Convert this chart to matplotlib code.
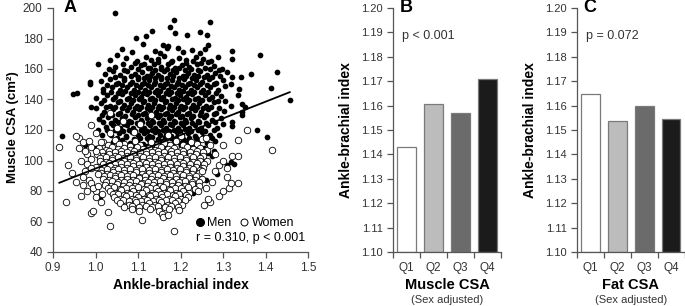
import matplotlib
matplotlib.use('Agg')
import matplotlib.pyplot as plt
from matplotlib.lines import Line2D

plt.rcParams['font.family'] = ['Liberation Sans', 'DejaVu Sans']

# ---- panel A data (ankle-brachial index, muscle CSA) ----
men = [
    (1.045, 196.5), (1.184, 192), (1.269, 190.5), (1.134, 185), (1.176, 187.5), (1.188, 183.5),
    (1.216, 182.5), (1.247, 184.5), (1.263, 182.5), (1.119, 181.5), (1.096, 180.5), (1.160, 176),
    (1.171, 175), (1.112, 176.5), (1.265, 176),
    (1.062, 173), (1.087, 171), (1.139, 172), (1.168, 173.5), (1.205, 171), (1.228, 172.5),
    (1.245, 170.5), (1.258, 173), (1.322, 172), (1.388, 169.5), (1.193, 174), (1.151, 170.5),
    (1.035, 166), (1.071, 167), (1.098, 165.5), (1.118, 168), (1.146, 166.5), (1.162, 168.5),
    (1.181, 165.5), (1.197, 167.5), (1.214, 166), (1.236, 168), (1.252, 166.5), (1.272, 165),
    (1.322, 166.5), (1.289, 168), (1.050, 169),
    (1.092, 164.2), (1.115, 163.4), (1.131, 165.6), (1.178, 164.7), (1.212, 163.8), (1.229, 165.2),
    (1.248, 164.0),
    (1.006, 163.5), (1.047, 161.5), (1.064, 163), (1.083, 161), (1.106, 162.5), (1.124, 160.5),
    (1.137, 163.5), (1.155, 161.5), (1.171, 163), (1.188, 160.5), (1.203, 162.5), (1.221, 161),
    (1.239, 163.5), (1.257, 160.5), (1.278, 162), (1.298, 160), (1.264, 164.5), (1.147, 164.5),
    (1.031, 160.1), (1.067, 159.4), (1.100, 159.8), (1.128, 160.6), (1.141, 159.1), (1.154, 159.9),
    (1.168, 160.3), (1.183, 159.2), (1.197, 160.4), (1.211, 159.6), (1.225, 160.1), (1.240, 159.3),
    (1.270, 160.2), (1.291, 159.5),
    (1.022, 157), (1.041, 159), (1.058, 156), (1.075, 158.5), (1.093, 156.5), (1.109, 158),
    (1.121, 155.5), (1.134, 157.5), (1.148, 156), (1.161, 158.5), (1.176, 156.5), (1.190, 158),
    (1.205, 155.5), (1.218, 157.5), (1.232, 156), (1.247, 158.5), (1.262, 156), (1.281, 157.5),
    (1.310, 158), (1.322, 154.5), (1.343, 154.5), (1.427, 158.3), (1.365, 157),
    (1.045, 154.7), (1.066, 154.2), (1.083, 155.1), (1.101, 154.6), (1.115, 153.9), (1.128, 155.2),
    (1.141, 154.3), (1.155, 155.0), (1.169, 154.1), (1.183, 155.3), (1.197, 154.4), (1.212, 155.1),
    (1.226, 154.0), (1.240, 155.2), (1.255, 154.6), (1.273, 154.9), (1.293, 155.4),
    (0.986, 151.8), (0.988, 150.3), (1.012, 152), (1.035, 153.5), (1.052, 151), (1.068, 153),
    (1.085, 151.5), (1.099, 153.5), (1.113, 151), (1.127, 153), (1.141, 151.5), (1.154, 153.5),
    (1.168, 151), (1.181, 153), (1.195, 151.5), (1.208, 153.5), (1.222, 151), (1.236, 153),
    (1.251, 151.5), (1.266, 153.5), (1.284, 151), (1.318, 150.2), (1.299, 153),
    (1.028, 149.8), (1.048, 150.2), (1.063, 149.3), (1.080, 150.1), (1.096, 149.6), (1.110, 150.4),
    (1.124, 149.2), (1.137, 150.0), (1.151, 149.5), (1.164, 150.3), (1.177, 149.1), (1.191, 150.2),
    (1.204, 149.7), (1.218, 150.3), (1.232, 149.4), (1.246, 150.1), (1.262, 149.6), (1.279, 150.4),
    (0.946, 143.7), (0.956, 144.3), (1.018, 147), (1.039, 148.5), (1.057, 146.5), (1.074, 148),
    (1.090, 146), (1.104, 148.5), (1.117, 146.5), (1.131, 148), (1.144, 146), (1.158, 148.5),
    (1.171, 146.5), (1.184, 148), (1.197, 146), (1.211, 148.5), (1.225, 146.5), (1.239, 148),
    (1.254, 146), (1.270, 148.5), (1.289, 146.5), (1.337, 146.7), (1.412, 147.4), (1.305, 149),
    (1.017, 144.8), (1.036, 145.1), (1.053, 144.2), (1.069, 145.3), (1.084, 144.5), (1.099, 145.2),
    (1.112, 144.1), (1.126, 145.0), (1.139, 144.6), (1.152, 145.4), (1.165, 144.3), (1.178, 145.1),
    (1.191, 144.5), (1.205, 145.3), (1.218, 144.2), (1.232, 145.0), (1.248, 144.6), (1.265, 145.2),
    (1.284, 144.4),
    (1.001, 141), (1.026, 143), (1.046, 141.5), (1.063, 143.5), (1.079, 141), (1.094, 143),
    (1.108, 141.5), (1.121, 143.5), (1.134, 141), (1.147, 143), (1.160, 141.5), (1.173, 143.5),
    (1.186, 141), (1.199, 143), (1.212, 141.5), (1.226, 143.5), (1.241, 141), (1.257, 143),
    (1.275, 141.5), (1.336, 143), (1.458, 139.7), (1.296, 142.5),
    (1.020, 139.8), (1.040, 140.1), (1.058, 139.3), (1.073, 140.2), (1.088, 139.6), (1.102, 140.3),
    (1.115, 139.1), (1.128, 140.0), (1.141, 139.5), (1.154, 140.4), (1.167, 139.2), (1.180, 140.1),
    (1.193, 139.7), (1.206, 140.3), (1.219, 139.4), (1.234, 140.2), (1.250, 139.6), (1.268, 140.0),
    (1.288, 139.3),
    (0.990, 135), (1.013, 137.5), (1.035, 136), (1.052, 138.5), (1.068, 136.5), (1.084, 138),
    (1.098, 136), (1.111, 138.5), (1.124, 136.5), (1.137, 138), (1.150, 136), (1.163, 138.5),
    (1.176, 136.5), (1.189, 138), (1.202, 136), (1.215, 138.5), (1.229, 136.5), (1.244, 138),
    (1.260, 136), (1.279, 138.5), (1.318, 136), (1.345, 136.9), (1.352, 135.3), (1.305, 139),
    (1.002, 134.2), (1.024, 134.8), (1.046, 135.1), (1.062, 134.3), (1.078, 135.0), (1.093, 134.6),
    (1.106, 135.3), (1.120, 134.1), (1.133, 135.0), (1.146, 134.5), (1.159, 135.2), (1.172, 134.3),
    (1.185, 135.1), (1.198, 134.6), (1.211, 135.3), (1.225, 134.2), (1.239, 135.0), (1.254, 134.6),
    (1.271, 135.2), (1.290, 134.5),
    (1.021, 132), (1.041, 133.5), (1.058, 131), (1.074, 133), (1.089, 131.5), (1.103, 133.5),
    (1.116, 131), (1.129, 133), (1.142, 131.5), (1.155, 133.5), (1.168, 131), (1.181, 133),
    (1.194, 131.5), (1.207, 133.5), (1.220, 131), (1.234, 133), (1.249, 131.5), (1.265, 133.5),
    (1.284, 131), (1.344, 132), (1.345, 129.9), (1.302, 132.5),
    (1.016, 130.1), (1.038, 129.6), (1.054, 130.3), (1.070, 129.4), (1.085, 130.2), (1.099, 129.7),
    (1.112, 130.4), (1.125, 129.2), (1.138, 130.1), (1.151, 129.6), (1.164, 130.3), (1.177, 129.3),
    (1.190, 130.2), (1.203, 129.5), (1.216, 130.4), (1.230, 129.4), (1.245, 130.0), (1.261, 129.6),
    (1.279, 130.3),
    (1.008, 127), (1.030, 128.5), (1.047, 126.5), (1.063, 128), (1.079, 126), (1.093, 128.5),
    (1.107, 126.5), (1.120, 128), (1.133, 126), (1.146, 128.5), (1.159, 126.5), (1.172, 128),
    (1.185, 126), (1.198, 128.5), (1.211, 126.5), (1.225, 128), (1.240, 126), (1.256, 128.5),
    (1.274, 126.5), (1.295, 128), (1.320, 125),
    (1.018, 125.0), (1.037, 124.6), (1.053, 125.3), (1.068, 124.2), (1.083, 125.1), (1.097, 124.5),
    (1.110, 125.2), (1.123, 124.3), (1.136, 125.0), (1.149, 124.6), (1.162, 125.3), (1.175, 124.2),
    (1.188, 125.1), (1.201, 124.5), (1.214, 125.2), (1.228, 124.3), (1.243, 125.0), (1.260, 124.6),
    (1.280, 125.1),
    (1.005, 120), (1.025, 122), (1.042, 123.5), (1.058, 121), (1.073, 123), (1.088, 121.5),
    (1.102, 123.5), (1.115, 121), (1.128, 123), (1.141, 121.5), (1.154, 123.5), (1.167, 121),
    (1.180, 123), (1.193, 121.5), (1.206, 123.5), (1.219, 121), (1.233, 123), (1.248, 121.5),
    (1.265, 123.5), (1.285, 121), (1.322, 122.6), (1.381, 120), (1.301, 124),
    (1.026, 119.8), (1.046, 120.2), (1.064, 119.4), (1.079, 120.3), (1.094, 119.6), (1.107, 120.1),
    (1.120, 119.2), (1.133, 120.0), (1.146, 119.5), (1.159, 120.3), (1.172, 119.4), (1.185, 120.2),
    (1.198, 119.6), (1.211, 120.4), (1.225, 119.3), (1.241, 120.1), (1.258, 119.6), (1.278, 120.2),
    (0.921, 116), (1.015, 117), (1.036, 116.5), (1.055, 118), (1.071, 116), (1.086, 118.5),
    (1.100, 116.5), (1.113, 118), (1.126, 116), (1.139, 118.5), (1.152, 116.5), (1.165, 118),
    (1.178, 116), (1.191, 118.5), (1.204, 116.5), (1.218, 118), (1.233, 116), (1.250, 118.5),
    (1.270, 116.5), (1.404, 115.6), (1.290, 117),
    (1.050, 114.8), (1.072, 115.2), (1.090, 114.3), (1.105, 115.0), (1.120, 114.5), (1.134, 115.3),
    (1.148, 114.2), (1.163, 115.1), (1.177, 114.6), (1.191, 115.2), (1.205, 114.4), (1.220, 115.0),
    (1.236, 114.6), (1.254, 115.1), (1.274, 114.5),
    (0.975, 110), (1.040, 112), (1.062, 113.5), (1.081, 111.5), (1.097, 113), (1.112, 111),
    (1.127, 113.5), (1.141, 111.5), (1.156, 113), (1.170, 111), (1.184, 113.5), (1.198, 111.5),
    (1.212, 113), (1.227, 111), (1.243, 113.5), (1.262, 111.5), (1.282, 113),
    (1.070, 109.8), (1.095, 110.3), (1.120, 109.6), (1.142, 110.2), (1.162, 109.5), (1.180, 110.4),
    (1.200, 109.7), (1.220, 110.1), (1.240, 109.4), (1.268, 110.2),
    (1.000, 108), (1.058, 107), (1.085, 108.5), (1.108, 106.5), (1.130, 108), (1.150, 106),
    (1.168, 108.5), (1.190, 106.5), (1.210, 108), (1.232, 106), (1.255, 108.5), (1.278, 106.5),
    (1.100, 104.8), (1.138, 105.3), (1.170, 104.6), (1.196, 105.2), (1.218, 104.4), (1.242, 105.1),
    (1.265, 104.7),
    (1.090, 102), (1.122, 103.5), (1.158, 101), (1.182, 104), (1.205, 102), (1.228, 103.5),
    (1.250, 101.5), (1.318, 99.1), (1.310, 97), (1.325, 98), (1.275, 103),
    (1.140, 96), (1.165, 94), (1.200, 95.5), (1.238, 97), (1.150, 90), (1.158, 87),
    (1.148, 85), (1.105, 92), (1.080, 88), (1.112, 81), (1.197, 84), (1.230, 79),
    (1.010, 76), (1.285, 91), (1.260, 87), (1.050, 95), (1.120, 99), (1.175, 98.5),
]

women = [
    (1.018, 112), (1.045, 113.5), (1.068, 111), (1.092, 113), (1.131, 112), (1.162, 111.5),
    (1.190, 113), (1.224, 112), (1.251, 114),
    (1.030, 110.2), (1.056, 110.5), (1.080, 109.8), (1.105, 110.4), (1.145, 110.1), (1.176, 110.3),
    (1.207, 109.9), (1.238, 110.5),
    (1.008, 108.5), (1.024, 107), (1.038, 109), (1.053, 107.5), (1.067, 108.5), (1.082, 107),
    (1.097, 109), (1.111, 107.5), (1.126, 108.5), (1.140, 107), (1.155, 109), (1.170, 107.5),
    (1.184, 108.5), (1.200, 107), (1.215, 109), (1.230, 107.5), (1.246, 108.5), (1.263, 107),
    (1.016, 105.8), (1.031, 106.3), (1.046, 105.6), (1.060, 106.2), (1.075, 105.7), (1.090, 106.4),
    (1.104, 105.5), (1.118, 106.1), (1.133, 105.8), (1.148, 106.3), (1.162, 105.6), (1.177, 106.2),
    (1.192, 105.7), (1.207, 106.3), (1.222, 105.6), (1.238, 106.1), (1.254, 105.8),
    (1.003, 104.5), (1.017, 103), (1.031, 104.5), (1.046, 103), (1.060, 104.5), (1.075, 103),
    (1.089, 104), (1.104, 103), (1.118, 104.5), (1.133, 103), (1.147, 104.5), (1.162, 103),
    (1.177, 104), (1.192, 103), (1.207, 104.5), (1.222, 103), (1.237, 104.5), (1.253, 103),
    (1.010, 101.8), (1.024, 102.3), (1.038, 101.6), (1.053, 102.2), (1.067, 101.7), (1.082, 102.4),
    (1.096, 101.5), (1.111, 102.1), (1.125, 101.8), (1.140, 102.3), (1.155, 101.6), (1.170, 102.2),
    (1.184, 101.7), (1.199, 102.3), (1.214, 101.6), (1.229, 102.1), (1.245, 101.8),
    (1.011, 100), (1.025, 99), (1.039, 100.5), (1.053, 99), (1.068, 100), (1.082, 99),
    (1.096, 100.5), (1.111, 99), (1.125, 100), (1.140, 99), (1.154, 100.5), (1.169, 99),
    (1.184, 100), (1.199, 99), (1.214, 100.5), (1.230, 99), (1.245, 100), (1.263, 99.5),
    (1.018, 97.8), (1.032, 98.3), (1.046, 97.6), (1.060, 98.2), (1.075, 97.7), (1.089, 98.4),
    (1.103, 97.5), (1.118, 98.1), (1.132, 97.8), (1.147, 98.3), (1.161, 97.6), (1.176, 98.2),
    (1.191, 97.7), (1.206, 98.3), (1.222, 97.6), (1.238, 98.1), (1.255, 97.8),
    (1.006, 96), (1.019, 95), (1.033, 96.5), (1.047, 95), (1.061, 96), (1.075, 95),
    (1.089, 96.5), (1.103, 95), (1.118, 96), (1.132, 95), (1.147, 96.5), (1.161, 95),
    (1.176, 96), (1.191, 95), (1.206, 96.5), (1.221, 95), (1.237, 96), (1.254, 95),
    (1.012, 93.8), (1.026, 94.3), (1.040, 93.6), (1.054, 94.2), (1.068, 93.7), (1.082, 94.4),
    (1.096, 93.5), (1.110, 94.1), (1.125, 93.8), (1.139, 94.3), (1.154, 93.6), (1.168, 94.2),
    (1.183, 93.7), (1.198, 94.3), (1.213, 93.6), (1.229, 94.1), (1.246, 93.8),
    (1.012, 92), (1.026, 91), (1.040, 92.5), (1.054, 91), (1.068, 92), (1.082, 91),
    (1.096, 92.5), (1.110, 91), (1.125, 92), (1.139, 91), (1.154, 92.5), (1.168, 91),
    (1.183, 92), (1.198, 91), (1.213, 92.5), (1.228, 91), (1.244, 92),
    (1.019, 89.8), (1.033, 90.3), (1.047, 89.6), (1.061, 90.2), (1.075, 89.7), (1.089, 90.4),
    (1.103, 89.5), (1.117, 90.1), (1.132, 89.8), (1.146, 90.3), (1.161, 89.6), (1.175, 90.2),
    (1.190, 89.7), (1.205, 90.3), (1.220, 89.6), (1.236, 90.1),
    (1.018, 88), (1.032, 87), (1.046, 88.5), (1.060, 87), (1.074, 88), (1.088, 87),
    (1.102, 88.5), (1.117, 87), (1.131, 88), (1.145, 87), (1.160, 88.5), (1.174, 87),
    (1.189, 88), (1.204, 87), (1.219, 88.5), (1.235, 87), (1.250, 88),
    (1.025, 85.8), (1.039, 86.3), (1.053, 85.6), (1.067, 86.2), (1.081, 85.7), (1.095, 86.4),
    (1.109, 85.5), (1.124, 86.1), (1.138, 85.8), (1.152, 86.3), (1.167, 85.6), (1.181, 86.2),
    (1.196, 85.7), (1.211, 86.3), (1.227, 85.6), (1.243, 86.1),
    (1.022, 84), (1.037, 83), (1.051, 84.5), (1.065, 83), (1.079, 84), (1.093, 83),
    (1.108, 84.5), (1.122, 83), (1.136, 84), (1.151, 83), (1.165, 84.5), (1.180, 83),
    (1.195, 84), (1.210, 83), (1.226, 84.5), (1.243, 83),
    (1.030, 81.8), (1.044, 82.3), (1.058, 81.6), (1.072, 82.2), (1.086, 81.7), (1.100, 82.4),
    (1.115, 81.5), (1.129, 82.1), (1.143, 81.8), (1.158, 82.3), (1.172, 81.6), (1.187, 82.2),
    (1.202, 81.7), (1.218, 82.3), (1.234, 81.6),
    (1.033, 80), (1.047, 79), (1.061, 80.5), (1.075, 79), (1.089, 80), (1.103, 79),
    (1.118, 80.5), (1.132, 79), (1.146, 80), (1.161, 79), (1.175, 80.5), (1.190, 79),
    (1.205, 80), (1.221, 79),
    (1.040, 77.8), (1.054, 78.3), (1.068, 77.6), (1.082, 78.2), (1.096, 77.7), (1.110, 78.4),
    (1.125, 77.5), (1.139, 78.1), (1.153, 77.8), (1.168, 78.3), (1.182, 77.6), (1.197, 78.2),
    (1.212, 77.7),
    (1.043, 76), (1.058, 75), (1.072, 76.5), (1.086, 75), (1.100, 76), (1.114, 75),
    (1.129, 76.5), (1.143, 75), (1.157, 76), (1.172, 75), (1.187, 76.5), (1.202, 75), (1.218, 76),
    (1.050, 73.8), (1.065, 74.3), (1.079, 73.6), (1.093, 74.2), (1.107, 73.7), (1.121, 74.4),
    (1.136, 73.5), (1.150, 74.1), (1.165, 73.8), (1.180, 74.3), (1.195, 73.6), (1.210, 74.2),
    (1.058, 72), (1.079, 71), (1.095, 72.5), (1.110, 71), (1.125, 72), (1.140, 71),
    (1.155, 72.5), (1.170, 71), (1.186, 72), (1.203, 70.5),
    (1.068, 69.8), (1.087, 70.3), (1.103, 69.6), (1.118, 70.2), (1.133, 69.7), (1.148, 70.4),
    (1.163, 69.5), (1.178, 70.1), (1.194, 69.8),
    (1.085, 68), (1.103, 67), (1.128, 68.5), (1.150, 67), (1.172, 68), (1.196, 67.5), (1.157, 65),
    (1.185, 53.7), (1.035, 57), (1.110, 61), (0.930, 73), (0.990, 65.5), (0.995, 67),
    (0.965, 77), (1.000, 80), (1.030, 66.5), (1.160, 63), (1.170, 64.5), (1.255, 71),
    (1.270, 72.5), (1.290, 77), (1.300, 80), (1.315, 82), (1.335, 85), (1.265, 75), (1.240, 80),
    (0.915, 109), (0.935, 97), (0.960, 115), (0.962, 108), (0.965, 100), (0.975, 93),
    (0.980, 104), (0.990, 101), (0.985, 87), (0.990, 85), (0.995, 82), (1.000, 96),
    (1.005, 91), (1.000, 106), (1.012, 112), (0.970, 89), (0.955, 86), (1.000, 76),
    (1.013, 73), (1.015, 78), (0.970, 112), (0.985, 113), (0.975, 106), (0.990, 109),
    (0.980, 98), (0.990, 95), (0.970, 84), (0.980, 80), (1.005, 83), (0.945, 92), (0.955, 116),
    (1.270, 110), (1.280, 104), (1.290, 97), (1.300, 100), (1.310, 95), (1.320, 103),
    (1.335, 103.2), (1.335, 113.6), (1.357, 120), (1.416, 107), (1.318, 85.4), (1.300, 110),
    (1.260, 115), (1.282, 93), (1.275, 86), (1.260, 82), (1.310, 89), (1.250, 93),
    (1.035, 118), (1.050, 121), (1.065, 126), (1.090, 119), (1.105, 124), (1.130, 130),
    (1.170, 117), (1.200, 116), (1.035, 131), (1.000, 118), (0.990, 123),
]

# least-squares line drawn in panel A (end points)
line_abi = [0.915, 1.457]
line_csa = [85.4, 144.8]

# ---- panels B and C ----
quartiles = ['Q1', 'Q2', 'Q3', 'Q4']
abi_by_muscle = [1.143, 1.1605, 1.157, 1.1708]
abi_by_fat = [1.1649, 1.1536, 1.1598, 1.1547]
bar_colors = ['white', '#bcbcbc', '#6b6b6b', '#1b1b1b']

axis_col = '#555555'
text_col = '#333333'

fig = plt.figure(figsize=(6.85, 3.06), dpi=100)
bottom = 1 - 252 / 306
height = 244 / 306
axA = fig.add_axes([53 / 685, bottom, 255 / 685, height])
axB = fig.add_axes([393 / 685, bottom, 108 / 685, height])
axC = fig.add_axes([577 / 685, bottom, 107.5 / 685, height])


def style_axes(ax, size):
    for s in ['top', 'right']:
        ax.spines[s].set_visible(False)
    for s in ['left', 'bottom']:
        ax.spines[s].set_color(axis_col)
        ax.spines[s].set_linewidth(0.9)
    ax.tick_params(which='both', direction='out', color=axis_col, width=0.9,
                   labelsize=size, labelcolor=text_col)


# Panel A
style_axes(axA, 8.5)
mx, my = zip(*men)
wx, wy = zip(*women)
axA.scatter(mx, my, s=17, c='black', linewidths=0, zorder=2)
axA.scatter(wx, wy, s=22, facecolors='white', edgecolors='black', linewidths=0.6, zorder=3)
axA.plot(line_abi, line_csa, color='black', lw=1.3, zorder=4)
axA.set_xlim(0.9, 1.5)
axA.set_ylim(40, 200)
axA.set_xticks([0.9, 1.0, 1.1, 1.2, 1.3, 1.4, 1.5])
axA.set_yticks(range(40, 201, 20))
axA.tick_params(length=4)
axA.set_ylabel('Muscle CSA (cm\u00b2)', fontsize=9.5, fontweight='bold')
axA.yaxis.set_label_coords(-0.135, 0.51)
axA.set_xlabel('Ankle-brachial index', fontsize=10, fontweight='bold')
axA.xaxis.set_label_coords(0.5, -0.105)
axA.text(0.04, 1.0, 'A', transform=axA.transAxes, fontsize=13, fontweight='heavy',
         va='center', ha='left')

handles = [
    Line2D([], [], ls='none', marker='o', ms=5.5, mfc='black', mec='black'),
    Line2D([], [], ls='none', marker='o', ms=5, mfc='white', mec='black', mew=0.7),
]
axA.legend(handles, ['Men', 'Women'], loc='center right', bbox_to_anchor=(0.945, 0.119),
           ncol=2, frameon=False, fontsize=9, handlelength=0.6, handletextpad=0.3,
           columnspacing=0.7, borderaxespad=0, borderpad=0)
axA.text(0.99, 0.057, 'r = 0.310, p < 0.001', transform=axA.transAxes, fontsize=9,
         ha='right', va='center', color='black')


# Panels B and C
def bar_panel(ax, values, letter, ptext, title):
    style_axes(ax, 8)
    ax.bar(range(4), [v - 1.10 for v in values], bottom=1.10, width=0.7,
           color=bar_colors, edgecolor='#7a7a7a', linewidth=0.9, zorder=2)
    ax.set_xlim(-0.5, 3.5)
    ax.set_ylim(1.10, 1.20)
    ax.set_yticks([1.10, 1.11, 1.12, 1.13, 1.14, 1.15, 1.16, 1.17, 1.18, 1.19, 1.20])
    ax.set_yticklabels(['%.2f' % t for t in ax.get_yticks()])
    ax.set_xticks(range(4))
    ax.set_xticklabels(quartiles, fontsize=8.5)
    ax.set_xticks([-0.5, 0.5, 1.5, 2.5, 3.5], minor=True)
    ax.tick_params(axis='x', which='major', length=0, pad=7)
    ax.tick_params(axis='x', which='minor', length=4)
    ax.tick_params(axis='y', length=4)
    ax.set_ylabel('Ankle-brachial index', fontsize=10, fontweight='bold')
    ax.yaxis.set_label_coords(-0.375, 0.5)
    ax.text(0.06, 1.0, letter, transform=ax.transAxes, fontsize=13, fontweight='heavy',
            va='center', ha='left')
    ax.text(-0.15, 1.1885, ptext, fontsize=9, va='center', ha='left', color=text_col)
    ax.text(0.5, -0.135, title, transform=ax.transAxes, fontsize=10.5, fontweight='bold',
            ha='center', va='center')
    ax.text(0.5, -0.197, '(Sex adjusted)', transform=ax.transAxes, fontsize=8,
            ha='center', va='center', color=text_col)


bar_panel(axB, abi_by_muscle, 'B', 'p < 0.001', 'Muscle CSA')
bar_panel(axC, abi_by_fat, 'C', 'p = 0.072', 'Fat CSA')

fig.savefig('out.png', dpi=100)
